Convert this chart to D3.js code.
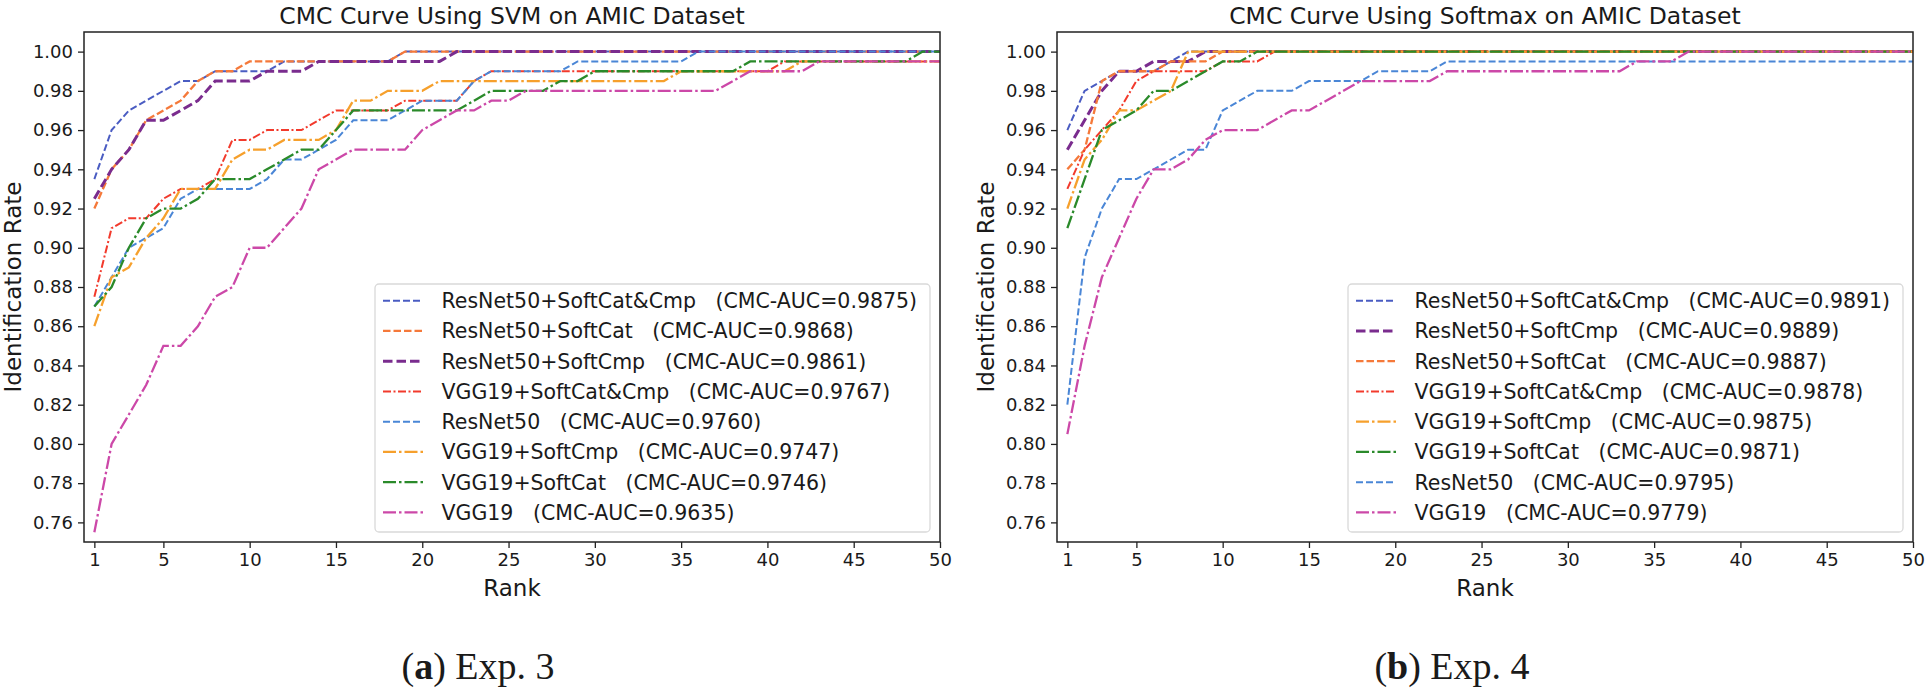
<!DOCTYPE html>
<html>
<head>
<meta charset="utf-8">
<script src="https://d3js.org/d3.v7.min.js"></script>
<style>
  body { margin: 0; background: #fff; }
  svg { display: block; }
  text { font-family: "DejaVu Sans", sans-serif; fill: #1a1a1a; }
  .caption { font-family: "Liberation Serif", "Times New Roman", serif; }
</style>
</head>
<body>
<script>
// ranks 1..50
var ranks = d3.range(1, 51);
var xTicks = [1, 5, 10, 15, 20, 25, 30, 35, 40, 45, 50];
var yTicks = [0.76, 0.78, 0.80, 0.82, 0.84, 0.86, 0.88, 0.90, 0.92, 0.94, 0.96, 0.98, 1.00];

// ---- Exp. 3 : SVM ----
var svmNames = ["ResNet50+SoftCat&Cmp", "ResNet50+SoftCat", "ResNet50+SoftCmp", "VGG19+SoftCat&Cmp",
                "ResNet50", "VGG19+SoftCmp", "VGG19+SoftCat", "VGG19"];
var svmAuc = ["0.9875", "0.9868", "0.9861", "0.9767", "0.9760", "0.9747", "0.9746", "0.9635"];
var svmStyle = ["blueDash", "orangeDash", "purpleDash", "redDot", "lightDash", "orangeDot", "greenDot", "pinkDot"];

var svmResCatCmp = [.935,.96,.97,.975,.98,.985,.985,.99,.99,.99, .99,.995,.995,.995,.995,.995,.995,.995,1,1,
                    1,1,1,1,1,1,1,1,1,1, 1,1,1,1,1,1,1,1,1,1, 1,1,1,1,1,1,1,1,1,1];
var svmResCat    = [.92,.94,.95,.965,.97,.975,.985,.99,.99,.995, .995,.995,.995,.995,.995,.995,.995,.995,1,1,
                    1,1,1,1,1,1,1,1,1,1, 1,1,1,1,1,1,1,1,1,1, 1,1,1,1,1,1,1,1,1,1];
var svmResCmp    = [.925,.94,.95,.965,.965,.97,.975,.985,.985,.985, .99,.99,.99,.995,.995,.995,.995,.995,.995,.995,
                    .995,1,1,1,1,1,1,1,1,1, 1,1,1,1,1,1,1,1,1,1, 1,1,1,1,1,1,1,1,1,1];
var svmVggCatCmp = [.875,.91,.915,.915,.925,.93,.93,.935,.955,.955, .96,.96,.96,.965,.97,.97,.97,.97,.975,.975,
                    .975,.975,.985,.99,.99,.99,.99,.99,.99,.99, .99,.99,.99,.99,.99,.99,.99,.99,.99,.99,
                    .995,.995,.995,.995,.995,.995,.995,.995,.995,.995];
var svmRes       = [.87,.885,.90,.905,.91,.925,.93,.93,.93,.93, .935,.945,.945,.95,.955,.965,.965,.965,.97,.975,
                    .975,.975,.985,.99,.99,.99,.99,.99,.995,.995, .995,.995,.995,.995,.995,1,1,1,1,1,
                    1,1,1,1,1,1,1,1,1,1];
var svmVggCmp    = [.86,.885,.89,.905,.915,.93,.93,.93,.945,.95, .95,.955,.955,.955,.96,.975,.975,.98,.98,.98,
                    .985,.985,.985,.985,.985,.985,.985,.985,.985,.985, .985,.985,.985,.985,.99,.99,.99,.99,.99,.99,
                    .99,.995,.995,.995,.995,.995,.995,.995,.995,.995];
var svmVggCat    = [.87,.88,.90,.915,.92,.92,.925,.935,.935,.935, .94,.945,.95,.95,.96,.97,.97,.97,.97,.97,
                    .97,.97,.975,.98,.98,.98,.98,.985,.985,.99, .99,.99,.99,.99,.99,.99,.99,.99,.995,.995,
                    .995,.995,.995,.995,.995,.995,.995,.995,1,1];
var svmVgg       = [.755,.80,.815,.83,.85,.85,.86,.875,.88,.90, .90,.91,.92,.94,.945,.95,.95,.95,.95,.96,
                    .965,.97,.97,.975,.975,.98,.98,.98,.98,.98, .98,.98,.98,.98,.98,.98,.98,.985,.99,.99,
                    .99,.99,.995,.995,.995,.995,.995,.995,.995,.995];

// ---- Exp. 4 : Softmax ----
var smNames = ["ResNet50+SoftCat&Cmp", "ResNet50+SoftCmp", "ResNet50+SoftCat", "VGG19+SoftCat&Cmp",
               "VGG19+SoftCmp", "VGG19+SoftCat", "ResNet50", "VGG19"];
var smAuc = ["0.9891", "0.9889", "0.9887", "0.9878", "0.9875", "0.9871", "0.9795", "0.9779"];
var smStyle = ["blueDash", "purpleDash", "orangeDash", "redDot", "orangeDot", "greenDot", "lightDash", "pinkDot"];

var smResCatCmp = [.96,.98,.985,.99,.99,.99,.995,1,1,1, 1,1,1,1,1,1,1,1,1,1,
                   1,1,1,1,1,1,1,1,1,1, 1,1,1,1,1,1,1,1,1,1, 1,1,1,1,1,1,1,1,1,1];
var smResCmp    = [.95,.965,.98,.99,.99,.995,.995,.995,1,1, 1,1,1,1,1,1,1,1,1,1,
                   1,1,1,1,1,1,1,1,1,1, 1,1,1,1,1,1,1,1,1,1, 1,1,1,1,1,1,1,1,1,1];
var smResCat    = [.94,.95,.985,.99,.99,.99,.995,.995,.995,1, 1,1,1,1,1,1,1,1,1,1,
                   1,1,1,1,1,1,1,1,1,1, 1,1,1,1,1,1,1,1,1,1, 1,1,1,1,1,1,1,1,1,1];
var smVggCatCmp = [.93,.95,.96,.97,.985,.99,.99,.99,.99,.995, .995,.995,1,1,1,1,1,1,1,1,
                   1,1,1,1,1,1,1,1,1,1, 1,1,1,1,1,1,1,1,1,1, 1,1,1,1,1,1,1,1,1,1];
var smVggCmp    = [.92,.945,.955,.97,.97,.975,.98,1,1,1, 1,1,1,1,1,1,1,1,1,1,
                   1,1,1,1,1,1,1,1,1,1, 1,1,1,1,1,1,1,1,1,1, 1,1,1,1,1,1,1,1,1,1];
var smVggCat    = [.91,.935,.96,.965,.97,.98,.98,.985,.99,.995, .995,1,1,1,1,1,1,1,1,1,
                   1,1,1,1,1,1,1,1,1,1, 1,1,1,1,1,1,1,1,1,1, 1,1,1,1,1,1,1,1,1,1];
var smRes       = [.82,.895,.92,.935,.935,.94,.945,.95,.95,.97, .975,.98,.98,.98,.985,.985,.985,.985,.99,.99,
                   .99,.99,.995,.995,.995,.995,.995,.995,.995,.995, .995,.995,.995,.995,.995,.995,.995,.995,.995,.995,
                   .995,.995,.995,.995,.995,.995,.995,.995,.995,.995];
var smVgg       = [.805,.85,.885,.905,.925,.94,.94,.945,.955,.96, .96,.96,.965,.97,.97,.975,.98,.985,.985,.985,
                   .985,.985,.99,.99,.99,.99,.99,.99,.99,.99, .99,.99,.99,.995,.995,.995,1,1,1,1,
                   1,1,1,1,1,1,1,1,1,1];

var styles = {
  blueDash:   { color: "#4a5cc2", width: 2,   dash: "7,3" },
  orangeDash: { color: "#f5793a", width: 2.3, dash: "7.5,3" },
  purpleDash: { color: "#7a2c8e", width: 3,   dash: "9.5,4" },
  redDot:     { color: "#f23a2c", width: 2,   dash: "8,2.5,2,2.5" },
  lightDash:  { color: "#4a86d6", width: 2,   dash: "7,3" },
  orangeDot:  { color: "#f6a02c", width: 2.3, dash: "13,3,2.5,3" },
  greenDot:   { color: "#2a8a2a", width: 2.3, dash: "13,3,2.5,3" },
  pinkDot:    { color: "#cc48a8", width: 2.3, dash: "13,3,2.5,3" }
};

var W = 1925, H = 688;
var svg = d3.select("body").append("svg").attr("width", W).attr("height", H);

function drawPanel(id, left, title, names, auc, styleKeys, series, caption, captionX) {
  var right = left + 856, top = 32, bottom = 542;
  var x = d3.scaleLinear().domain([0.4, 50]).range([left, right]);
  var y = d3.scaleLinear().domain([0.75, 1.01]).range([bottom, top]);
  var g = svg.append("g");

  g.append("clipPath").attr("id", "clip" + id)
    .append("rect").attr("x", left).attr("y", top).attr("width", right - left).attr("height", bottom - top);

  var line = d3.line().x(function(d, i) { return x(ranks[i]); }).y(function(d) { return y(d); });

  series.forEach(function(vals, k) {
    var s = styles[styleKeys[k]];
    g.append("path").datum(vals)
      .attr("clip-path", "url(#clip" + id + ")")
      .attr("d", line)
      .attr("fill", "none")
      .attr("stroke", s.color)
      .attr("stroke-width", s.width)
      .attr("stroke-dasharray", s.dash);
  });

  // axes
  var xa = g.append("g").attr("transform", "translate(0," + bottom + ")")
    .call(d3.axisBottom(x).tickValues(xTicks).tickSize(6).tickPadding(5).tickFormat(d3.format("d")));
  var ya = g.append("g").attr("transform", "translate(" + left + ",0)")
    .call(d3.axisLeft(y).tickValues(yTicks).tickSize(6).tickPadding(5).tickFormat(d3.format(".2f")));
  [xa, ya].forEach(function(a) {
    a.select(".domain").remove();
    a.selectAll(".tick line").attr("stroke", "#222").attr("stroke-width", 1.3);
    a.selectAll(".tick text").attr("font-size", "18px").attr("fill", "#1a1a1a")
      .style("font-family", "DejaVu Sans, sans-serif");
  });
  g.append("rect").attr("x", left).attr("y", top).attr("width", right - left).attr("height", bottom - top)
    .attr("fill", "none").attr("stroke", "#222").attr("stroke-width", 1.5);

  g.append("text").attr("x", (left + right) / 2).attr("y", 23.5).attr("text-anchor", "middle")
    .attr("font-size", "23.5px").text(title);
  g.append("text").attr("x", (left + right) / 2).attr("y", 596).attr("text-anchor", "middle")
    .attr("font-size", "23px").text("Rank");
  g.append("text").attr("transform", "translate(" + (left - 63.5) + "," + ((top + bottom) / 2) + ") rotate(-90)")
    .attr("text-anchor", "middle").attr("font-size", "23px").text("Identification Rate");

  // legend
  var lx = left + 291, ly = 284;
  var leg = g.append("g");
  leg.append("rect").attr("x", lx).attr("y", ly).attr("width", 555).attr("height", 248)
    .attr("rx", 4).attr("fill", "#fff").attr("fill-opacity", 0.8)
    .attr("stroke", "#d9d9d9").attr("stroke-width", 1.3);
  names.forEach(function(n, k) {
    var s = styles[styleKeys[k]];
    var cy = 300.7 + k * 30.25;
    leg.append("line").attr("x1", lx + 8).attr("x2", lx + 48).attr("y1", cy).attr("y2", cy)
      .attr("stroke", s.color).attr("stroke-width", s.width).attr("stroke-dasharray", s.dash);
    leg.append("text").attr("x", lx + 66.5).attr("y", cy + 7.3).attr("font-size", "20.5px")
      .attr("xml:space", "preserve").style("white-space", "pre")
      .text(n + "   (CMC-AUC=" + auc[k] + ")");
  });

  // caption
  var cap = svg.append("text").attr("class", "caption").attr("x", captionX).attr("y", 679)
    .attr("text-anchor", "middle").attr("font-size", "38px").style("font-family", "Liberation Serif, serif");
  cap.append("tspan").text("(");
  cap.append("tspan").attr("font-weight", "bold").text(caption[0]);
  cap.append("tspan").text(") " + caption[1]);
}

drawPanel("a", 84, "CMC Curve Using SVM on AMIC Dataset", svmNames, svmAuc, svmStyle,
  [svmResCatCmp, svmResCat, svmResCmp, svmVggCatCmp, svmRes, svmVggCmp, svmVggCat, svmVgg],
  ["a", "Exp. 3"], 478);
drawPanel("b", 1057, "CMC Curve Using Softmax on AMIC Dataset", smNames, smAuc, smStyle,
  [smResCatCmp, smResCmp, smResCat, smVggCatCmp, smVggCmp, smVggCat, smRes, smVgg],
  ["b", "Exp. 4"], 1452);
</script>
</body>
</html>
